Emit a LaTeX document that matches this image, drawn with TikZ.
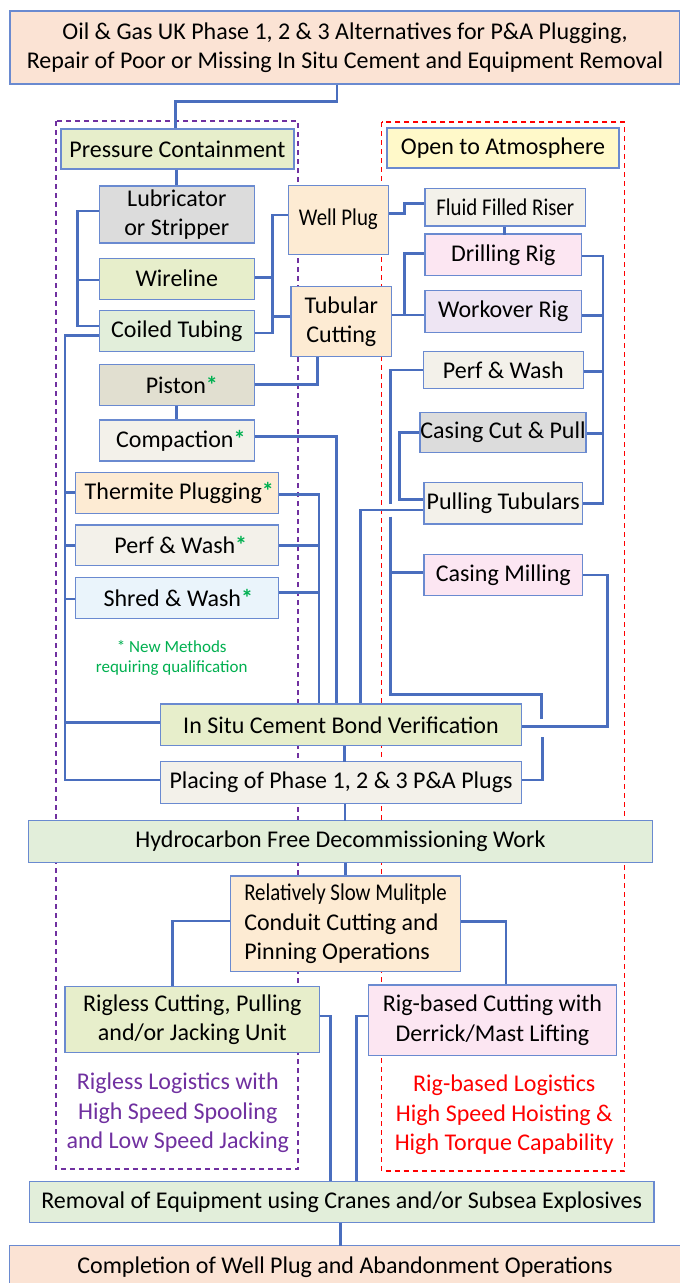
\documentclass[tikz,border=0pt]{standalone}
\usepackage{fontspec}
\setmainfont{Carlito}
\newfontfamily\condfont[FakeStretch=0.87]{Carlito}
\usetikzlibrary{calc}
\definecolor{connc}{HTML}{4A6EBE}
\definecolor{bord}{HTML}{6A8AD0}
\definecolor{peach}{HTML}{FBE3D4}
\definecolor{lgreen}{HTML}{E7EECB}
\definecolor{pgreen}{HTML}{E2EEDA}
\definecolor{lyellow}{HTML}{FFF9C9}
\definecolor{lgray}{HTML}{DCDCDC}
\definecolor{tanfill}{HTML}{FDEBD3}
\definecolor{pistonc}{HTML}{E1DFD0}
\definecolor{offwhite}{HTML}{F3F1EA}
\definecolor{lblue}{HTML}{EAF4FB}
\definecolor{lpink}{HTML}{FCE6F2}
\definecolor{lav}{HTML}{EEE5F3}
\definecolor{ngreen}{HTML}{00B050}
\definecolor{dpurple}{HTML}{7030A0}
\definecolor{dred}{HTML}{FF0000}
\newcommand{\mainsz}{\fontsize{24}{29.3}\selectfont}
\newcommand{\gstar}{{\color{ngreen}\bfseries*}}
\begin{document}
\begin{tikzpicture}[x=1pt,y=-1pt,
  box/.style={draw=bord,line width=1.2pt,inner sep=0pt,align=center,font=\mainsz},
  conn/.style={draw=connc,line width=2.8pt},
  grp/.style={line width=1.3pt,dash pattern=on 5pt off 4pt}]
\useasboundingbox (0,0) rectangle (680,1283);
\fill[white] (0,0) rectangle (680,1283);
% group frames
\draw[grp,dpurple] (56,121) rectangle (298,1169);
\draw[grp,dred] (381.6,122) rectangle (624.5,1171);
% nodes
\node[box,fill=peach,minimum width=670pt,minimum height=73pt] (title) at (345,47.5) {Oil \& Gas UK Phase 1, 2 \& 3 Alternatives for P\&A Plugging,\\Repair of Poor or Missing In Situ Cement and Equipment Removal};
\node[box,fill=lgreen,minimum width=233pt,minimum height=40pt] (pc) at (177.4,149) {Pressure Containment};
\node[box,fill=lyellow,minimum width=232pt,minimum height=40pt] (ota) at (503,148) {Open to Atmosphere};
\node[box,fill=lgray,minimum width=155pt,minimum height=57pt] (lub) at (176.8,214.5) {Lubricator\\or Stripper};
\node[box,fill=lgreen,minimum width=155pt,minimum height=41pt] (wire) at (176.8,278.7) {Wireline};
\node[box,fill=pgreen,minimum width=155pt,minimum height=41pt] (coil) at (176.8,331.2) {Coiled Tubing};
\node[box,fill=pistonc,minimum width=155pt,minimum height=41.4pt] (piston) at (176.8,385) {\hspace*{10pt}Piston\gstar};
\node[box,fill=offwhite,minimum width=155pt,minimum height=41pt] (comp) at (176.8,440.5) {\hspace*{8pt}Compaction\gstar};
\node[box,fill=tanfill,minimum width=203pt,minimum height=41pt] (therm) at (176.8,492.8) {\hspace*{5pt}Thermite Plugging\gstar};
\node[box,fill=offwhite,minimum width=203pt,minimum height=40.7pt] (pw1) at (176.8,545.3) {\hspace*{8pt}Perf \& Wash\gstar};
\node[box,fill=lblue,minimum width=203pt,minimum height=41pt] (shred) at (176.8,597.8) {\hspace*{3pt}Shred \& Wash\gstar};
\node[box,fill=tanfill,minimum width=100pt,minimum height=69pt] (wp) at (338.4,219.6) {\condfont Well Plug};
\node[box,fill=tanfill,minimum width=100.7pt,minimum height=70pt] (tc) at (341.3,321.7) {Tubular\\Cutting};
\node[box,fill=offwhite,minimum width=160.7pt,minimum height=37.7pt] (ffr) at (505.3,207.2) {\condfont Fluid Filled Riser};
\node[box,fill=lpink,minimum width=156.7pt,minimum height=41.7pt] (dr) at (503.3,254.8) {Drilling Rig};
\node[box,fill=lav,minimum width=156.7pt,minimum height=41.6pt] (wr) at (503.3,311.5) {Workover Rig};
\node[box,fill=offwhite,minimum width=160pt,minimum height=36.6pt] (pw2) at (503.3,370) {Perf \& Wash};
\node[box,fill=lgray,minimum width=166pt,minimum height=40.4pt] (ccp) at (503,432.5) {Casing Cut \& Pull};
\node[box,fill=offwhite,minimum width=158.7pt,minimum height=41.3pt] (pt) at (503.3,503.3) {Pulling Tubulars};
\node[box,fill=lpink,minimum width=158.7pt,minimum height=41.4pt] (cm) at (503.3,575) {Casing Milling};
\node[box,fill=lgreen,minimum width=361.3pt,minimum height=41.7pt] (isc) at (341,724.8) {In Situ Cement Bond Verification};
\node[box,fill=offwhite,minimum width=361.3pt,minimum height=41.6pt] (place) at (341,782.5) {Placing of Phase 1, 2 \& 3 P\&A Plugs};
\node[box,fill=pgreen,minimum width=624.4pt,minimum height=41.6pt] (hc) at (340.4,841.5) {Hydrocarbon Free Decommissioning Work};
\node[box,fill=tanfill,minimum width=229.8pt,minimum height=95.7pt,align=left] (rs) at (345.6,923.8) {{\condfont Relatively Slow Mulitple}\\Conduit Cutting and\\Pinning Operations};
\node[box,fill=lgreen,minimum width=254.6pt,minimum height=65.6pt] (rl) at (192.3,1019.5) {Rigless Cutting, Pulling\\and/or Jacking Unit};
\node[box,fill=lpink,minimum width=247.6pt,minimum height=70.7pt] (rb) at (492.4,1020.3) {Rig-based Cutting with\\Derrick/Mast Lifting};
\node[box,fill=pgreen,minimum width=624.5pt,minimum height=40.6pt] (rem) at (341.7,1202) {Removal of Equipment using Cranes and/or Subsea Explosives};
\node[box,fill=peach,minimum width=671pt,minimum height=43pt] (fin) at (345,1267) {Completion of Well Plug and Abandonment Operations};
% free texts
\node[align=center,text=ngreen,font=\fontsize{17}{20}\selectfont] (note) at (171.7,658) {* New Methods\\requiring qualification};
\node[align=center,text=dpurple,font=\mainsz] (rlog) at (177.8,1113) {Rigless Logistics with\\High Speed Spooling\\and Low Speed Jacking};
\node[align=center,text=dred,font=\mainsz] (rblog) at (504.3,1115) {Rig-based Logistics\\High Speed Hoisting \&\\High Torque Capability};
% connectors
\draw[conn] ([xshift=-8pt]title.south) -- ++(0,16.7) -| ([xshift=-1.8pt]pc.north);
\draw[conn] (pc.south -| lub.north) -- (lub.north);
\draw[conn] ([yshift=3.5pt]lub.west) -- ++(-21.6,0) |- ([yshift=5.2pt]coil.west);
\draw[conn] ([yshift=-1.3pt]wire.west) -- ++(-21.6,0);
\draw[conn] ([yshift=4.6pt]wp.west) -- ++(-15.2,0) |- ([yshift=-1.8pt]coil.east);
\draw[conn] ([yshift=1.4pt]wire.east) -- ++(19,0);
\draw[conn] ([yshift=5pt]tc.west) -- ++(-17.7,0);
\draw[conn] ([yshift=-4.5pt]coil.west) -- ++(-33.8,0) |- ([yshift=2.5pt]place.west);
\draw[conn] (therm.west) -- ++(-9.8,0);
\draw[conn] (pw1.west) -- ++(-9.8,0);
\draw[conn] ([yshift=-1.2pt]shred.west) -- ++(-9.8,0);
\draw[conn] ([yshift=2.5pt]isc.west) -- ++(-94.9,0);
\draw[conn] (piston.south) -- (comp.north);
\draw[conn] ([yshift=0.7pt]piston.east) -| ([xshift=-24pt]tc.south);
\draw[conn] ([yshift=3.8pt]comp.east) -| ([xshift=-4.3pt]isc.north);
\draw[conn] ([yshift=-1.5pt]therm.east) -| ([xshift=-22pt]isc.north);
\draw[conn] (pw1.east) -- ++(40.7,0);
\draw[conn] ([yshift=5.5pt]shred.east) -- ++(40.7,0);
\draw[conn] ([yshift=6.3pt]wp.east) -- ++(15.6,0) |- ([yshift=3.9pt]ffr.west);
\draw[conn] ([xshift=-1pt]ffr.south) -- ++(0,8);
\draw[conn] ([yshift=6.7pt]tc.east) -- ([yshift=-3.5pt]wr.west);
\draw[conn] ([yshift=6.7pt]tc.east) ++(12.35,0) |- ([yshift=1.5pt]dr.west);
\draw[conn] ([yshift=-1.2pt]dr.east) -- ++(20.65,0) |- (pt.east);
\draw[conn] ([yshift=-4.2pt]wr.east) -- ++(20.65,0);
\draw[conn] ([yshift=-1.7pt]pw2.east) -- ++(19,0);
\draw[conn] ([yshift=-0.8pt]ccp.east) -- ++(16.3,0);
\draw[conn] ([yshift=0.2pt]ccp.west) -- ++(-20,0) |- ([yshift=4pt]pt.west);
\draw[conn] ([yshift=-6.7pt]pt.west) -| ([xshift=19.7pt]isc.north);
\draw[conn] (pw2.west) -- ++(-32.3,0) -- ++(0,134);
\draw[conn] (pw2.west) ++(-32.3,146.7) -- ++(0,177.8) -- ++(151,0) -- ++(0,24.8);
\draw[conn] ([yshift=2.5pt]place.east) -- ++(20.35,0) -- ++(0,-43.3);
\draw[conn] ([yshift=2.3pt]cm.west) -- ++(-33,0);
\draw[conn] (cm.east) -- ++(24,0) |- ([yshift=-2pt]isc.east);
\draw[conn] ([xshift=3.8pt]isc.south) -- ++(0,16.05);
\draw[conn] ([xshift=4pt]place.south) -- ++(0,17.4);
\draw[conn] (hc.south -| rs.north) -- (rs.north);
\draw[conn] ([yshift=2.8pt]rs.west) -| ([xshift=-19.7pt]rl.north);
\draw[conn] ([yshift=2.1pt]rs.east) -| ([xshift=13.6pt]rb.north);
\draw[conn] ([yshift=3.5pt]rl.east) -| ([xshift=-11.3pt]rem.north);
\draw[conn] ([yshift=4.3pt]rb.west) -| ([xshift=14.8pt]rem.north);
\draw[conn] ([xshift=-1.3pt]rem.south) -- ++(0,23.5);
\end{tikzpicture}
\end{document}
